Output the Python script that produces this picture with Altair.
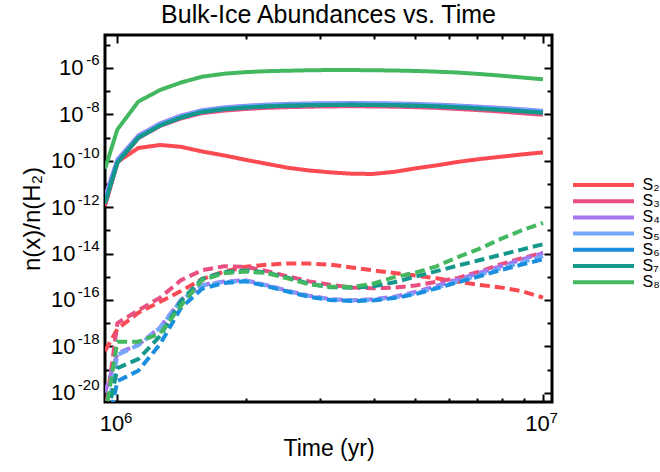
import altair as alt
import pandas as pd

FONT = "Liberation Sans"

# time grid (yr)
times = [9.35e5, 1.0e6, 1.12e6, 1.26e6, 1.41e6, 1.58e6, 1.78e6, 2.0e6, 2.24e6, 2.51e6,
         2.82e6, 3.16e6, 3.55e6, 3.98e6, 4.47e6, 5.01e6, 5.62e6, 6.31e6, 7.08e6, 7.94e6,
         8.91e6, 1.0e7]

species = ["S₂", "S₃", "S₄", "S₅", "S₆", "S₇", "S₈"]
colors = ["#fa4a52", "#e9507f", "#a874f0", "#74a8fa", "#1a8fe0", "#16978c", "#44b860"]

# log10 abundances, solid lines
s2_solid = [-11.95, -10.05, -9.45, -9.32, -9.4, -9.6, -9.77, -9.96, -10.13, -10.3, -10.42, -10.5, -10.56, -10.57, -10.48, -10.33, -10.2, -10.05, -9.93, -9.83, -9.73, -9.64]
s3_solid = [-11.9, -10.1, -9.03, -8.5, -8.18, -7.95, -7.84, -7.77, -7.72, -7.69, -7.67, -7.66, -7.65, -7.66, -7.67, -7.69, -7.72, -7.77, -7.82, -7.88, -7.95, -8.02]
s4_solid = [-11.55, -9.95, -8.91, -8.39, -8.05, -7.82, -7.7, -7.63, -7.58, -7.55, -7.53, -7.52, -7.51, -7.52, -7.53, -7.55, -7.58, -7.62, -7.67, -7.72, -7.78, -7.85]
s5_solid = [-11.7, -10.0, -8.95, -8.42, -8.08, -7.84, -7.72, -7.65, -7.6, -7.57, -7.55, -7.54, -7.53, -7.54, -7.55, -7.57, -7.6, -7.64, -7.69, -7.74, -7.8, -7.87]
s6_solid = [-11.8, -10.05, -9.0, -8.47, -8.13, -7.89, -7.77, -7.7, -7.65, -7.62, -7.6, -7.59, -7.58, -7.59, -7.6, -7.62, -7.65, -7.69, -7.74, -7.79, -7.85, -7.92]
s7_solid = [-11.85, -10.08, -9.01, -8.48, -8.14, -7.9, -7.78, -7.71, -7.66, -7.63, -7.61, -7.6, -7.59, -7.6, -7.61, -7.63, -7.66, -7.7, -7.75, -7.81, -7.87, -7.94]
s8_solid = [-10.35, -8.65, -7.45, -6.95, -6.63, -6.38, -6.25, -6.18, -6.14, -6.12, -6.1, -6.09, -6.09, -6.1, -6.11, -6.13, -6.16, -6.2, -6.26, -6.33, -6.41, -6.49]

# log10 abundances, dashed lines
s2_dashed = [-18.2, -17.25, -16.55, -16.08, -15.62, -15.1, -14.78, -14.57, -14.48, -14.43, -14.43, -14.48, -14.6, -14.72, -14.84, -14.95, -15.07, -15.22, -15.35, -15.46, -15.62, -15.9]
s3_dashed = [-21.0, -17.0, -16.45, -15.9, -15.15, -14.72, -14.55, -14.57, -14.75, -14.98, -15.2, -15.35, -15.46, -15.5, -15.47, -15.38, -15.22, -15.05, -14.78, -14.47, -14.2, -13.97]
s4_dashed = [-20.0, -18.3, -17.93, -17.18, -16.0, -15.36, -15.21, -15.15, -15.36, -15.6, -15.82, -15.96, -16.01, -15.97, -15.86, -15.66, -15.4, -15.12, -14.84, -14.55, -14.26, -13.98]
s5_dashed = [-21.5, -18.37, -17.95, -17.2, -16.02, -15.38, -15.23, -15.17, -15.38, -15.62, -15.84, -15.98, -16.03, -16.0, -15.9, -15.72, -15.47, -15.2, -14.93, -14.65, -14.38, -14.12]
s6_dashed = [-22.0, -19.5, -19.05, -17.9, -16.35, -15.52, -15.27, -15.2, -15.4, -15.64, -15.86, -16.0, -16.05, -16.02, -15.92, -15.75, -15.5, -15.24, -14.98, -14.72, -14.48, -14.25]
s7_dashed = [-21.5, -18.94, -18.55, -17.55, -16.05, -15.1, -14.8, -14.73, -14.82, -15.04, -15.3, -15.45, -15.47, -15.42, -15.24, -15.0, -14.76, -14.52, -14.29, -14.06, -13.83, -13.6]
s8_dashed = [-21.0, -17.8, -17.8, -17.45, -16.25, -15.15, -14.85, -14.78, -14.84, -15.07, -15.33, -15.43, -15.44, -15.3, -15.02, -14.83, -14.55, -14.15, -13.8, -13.38, -13.0, -12.68]

x_label_ticks = [1e6, 1e7]
x_minor_ticks = [1e6, 2e6, 3e6, 4e6, 5e6, 6e6, 7e6, 8e6, 9e6, 1e7]
y_label_ticks = [1e-20, 1e-18, 1e-16, 1e-14, 1e-12, 1e-10, 1e-8, 1e-6]
y_minor_ticks = [1e-20, 1e-19, 1e-18, 1e-17, 1e-16, 1e-15, 1e-14, 1e-13, 1e-12,
                 1e-11, 1e-10, 1e-9, 1e-8, 1e-7, 1e-6, 1e-5]

solid = [s2_solid, s3_solid, s4_solid, s5_solid, s6_solid, s7_solid, s8_solid]
dashed = [s2_dashed, s3_dashed, s4_dashed, s5_dashed, s6_dashed, s7_dashed, s8_dashed]

rows = []
for kind, series in (("dashed", dashed), ("solid", solid)):
    for sp, vals in zip(species, series):
        for t, lv in zip(times, vals):
            rows.append({"t": t, "v": 10.0 ** lv, "species": sp, "kind": kind})
df = pd.DataFrame(rows)

xscale = alt.Scale(type="log", domain=[9.35e5, 1.05e7], nice=False)
yscale = alt.Scale(type="log", domain=[10 ** -20.4, 10 ** -4.58], nice=False)

EXP = "round(log(datum.value)/LN10)"

main = alt.Chart(df).mark_line(clip=True).encode(
    x=alt.X("t:Q", scale=xscale, axis=alt.Axis(
        orient="bottom", values=x_label_ticks, labelExpr="'10'", labelFontSize=22,
        labelOffset=-6, labelPadding=11, labelFlush=False, labelOverlap=False,
        ticks=False, domain=False, grid=False,
        title="Time (yr)", titleFontSize=23, titlePadding=3, titleFontWeight="normal")),
    y=alt.Y("v:Q", scale=yscale, axis=alt.Axis(
        orient="left", values=y_label_ticks, labelExpr="'10'", labelFontSize=22,
        labelAlign="right", labelBaseline="middle",
        labelPadding={"expr": "abs(" + EXP + ") >= 10 ? 30 : 22"},
        labelFlush=False, labelOverlap=False, ticks=False, domain=False, grid=False,
        title="n(x)/n(H₂)", titleFontSize=24, titlePadding=6, titleFontWeight="normal")),
    color=alt.Color("species:N", sort=species,
                    scale=alt.Scale(domain=species, range=colors),
                    legend=alt.Legend(title=None, orient="none", legendX=468, legendY=142,
                                      symbolType="M-6.1,0H6.1", symbolSize=100,
                                      symbolStrokeWidth=4, symbolOffset=22.5,
                                      labelOffset=31, labelFontSize=16, labelFont=FONT,
                                      rowPadding=0.2, padding=0)),
    strokeDash=alt.StrokeDash("kind:N", scale=alt.Scale(domain=["solid", "dashed"],
                                                        range=[[1, 0], [10, 5]]), legend=None),
    strokeWidth=alt.StrokeWidth("kind:N", scale=alt.Scale(domain=["solid", "dashed"],
                                                          range=[4, 4]), legend=None),
)

expo = alt.Chart(df).mark_point(opacity=0).encode(
    x=alt.X("t:Q", scale=xscale, axis=alt.Axis(
        orient="bottom", values=x_label_ticks, labelExpr="'' + " + EXP, labelFontSize=15,
        labelAlign="left", labelOffset=6, labelPadding=8, labelFlush=False,
        labelOverlap=False, ticks=False, domain=False, grid=False, title=None)),
    y=alt.Y("v:Q", scale=yscale, axis=alt.Axis(
        orient="left", values=y_label_ticks, labelExpr="'' + " + EXP, labelFontSize=15,
        labelAlign="right", labelBaseline="middle", labelOffset=-8, labelPadding=6,
        labelFlush=False, labelOverlap=False, ticks=False, domain=False, grid=False,
        title=None)),
)

YT = "abs(" + EXP + ") % 2 == 0 ? -8 : -5"
XT = "(datum.value < 1.5e6 || datum.value > 9.5e6) ? -8 : -4"


def tick_layer(xo, yo):
    return alt.Chart(df).mark_point(opacity=0).encode(
        x=alt.X("t:Q", scale=xscale, axis=alt.Axis(
            orient=xo, values=x_minor_ticks, labels=False, domain=False, grid=False,
            ticks=True, tickSize={"expr": XT}, tickWidth=2, tickColor="black", title=None)),
        y=alt.Y("v:Q", scale=yscale, axis=alt.Axis(
            orient=yo, values=y_minor_ticks, labels=False, domain=False, grid=False,
            ticks=True, tickSize={"expr": YT}, tickWidth=2, tickColor="black", title=None)),
    )


chart = alt.layer(main, expo, tick_layer("bottom", "left"), tick_layer("top", "right")).resolve_axis(
    x="independent", y="independent"
).properties(
    width=447, height=367,
    title=alt.TitleParams("Bulk-Ice Abundances vs. Time", fontSize=25, fontWeight="normal",
                          font=FONT, anchor="middle", offset=6, color="black"),
    autosize=alt.AutoSizeParams(type="none"),
    padding={"left": 105, "top": 35, "right": 108, "bottom": 70},
).configure_view(
    stroke="black", strokeWidth=3
).configure_axis(
    labelFont=FONT, titleFont=FONT, labelColor="black", titleColor="black"
).configure_legend(
    labelColor="black"
)

chart.save("out.html", embed_options={"renderer": "svg", "actions": False})
